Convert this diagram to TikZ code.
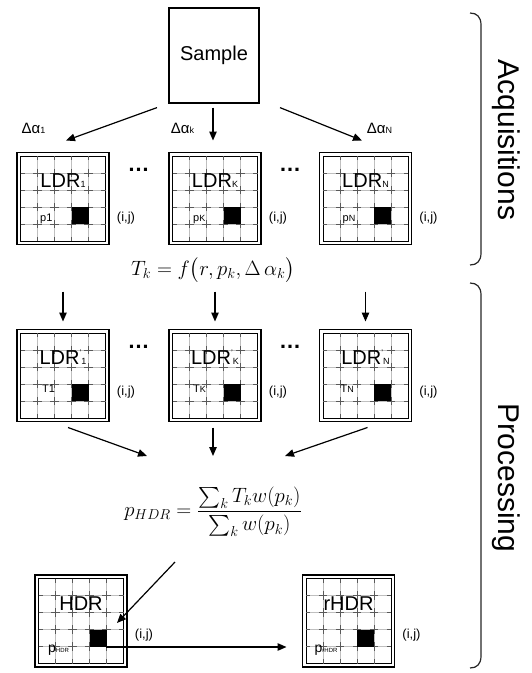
\documentclass[tikz,border=0pt]{standalone}
\usepackage{exscale}
\usepackage{fontspec}
\setmainfont{Liberation Sans}
\usetikzlibrary{arrows.meta}

% small lowered index and prime used in the box titles
\newcommand{\lsub}[1]{{\fontsize{9}{9}\selectfont #1}}
\newcommand{\lprime}{\raisebox{9pt}{\fontsize{8}{8}\selectfont '}}

% pixel box: name, x, y, title, pixel label, label position, (i,j) shift
\newcommand{\pixgrid}[7]{%
  \node[pixbox] (#1) at (#2,#3) {};
  \begin{scope}[shift={(#1.north west)}]
    \draw[line width=0.7pt] (3.5,3.5) rectangle (88.5,88.5);
    \foreach \i in {1,...,4} {
      \draw[gridlight] (3.5+17*\i,3.5) -- (3.5+17*\i,88.5);
      \draw[gridlight] (3.5,3.5+17*\i) -- (88.5,3.5+17*\i);
      \draw[griddark] (3.5+17*\i,3.5) -- (3.5+17*\i,88.5);
      \draw[griddark] (3.5,3.5+17*\i) -- (88.5,3.5+17*\i);
    }
    \fill (54.5,54.5) rectangle (71.5,71.5);
    \node[boxtitle] (#1-t) at (46,35) {#4};
    \node[pixlbl] (#1-p) at #6 {#5};
  \end{scope}
  \node[ijlbl] (#1-ij) at ([xshift=17pt,yshift=#7pt]#1.east) {(i,j)};
}

\begin{document}
\begin{tikzpicture}[x=1pt,y=-1pt,
  pixbox/.style={draw,line width=1.4pt,minimum size=92pt,inner sep=0pt,outer sep=0pt},
  gridlight/.style={black!25,line width=0.7pt},
  griddark/.style={black!65,line width=0.7pt,dash pattern=on 8.5pt off 8.5pt,dash phase=4.25pt},
  boxtitle/.style={font=\fontsize{20}{20}\selectfont,anchor=base,inner sep=0pt},
  pixlbl/.style={font=\fontsize{11}{11}\selectfont,anchor=base west,inner sep=0pt},
  ijlbl/.style={font=\fontsize{13}{13}\selectfont,inner sep=0pt},
  dalbl/.style={font=\fontsize{15}{15}\selectfont,inner sep=0pt},
  dots/.style={font=\fontsize{22}{22}\selectfont\bfseries,inner sep=0pt},
  side/.style={font=\fontsize{30}{30}\selectfont,rotate=-90,inner sep=0pt},
  arr/.style={-{Triangle[length=9pt,width=7.5pt]},line width=1.2pt},
  bracket/.style={line width=1.2pt,black!85}]
\useasboundingbox (0,0) rectangle (531,673);

% acquisitions
\node[draw,line width=1.2pt,minimum width=90pt,minimum height=95pt,
  font=\fontsize{20}{20}\selectfont] (sample) at (214,55.5) {Sample};

\pixgrid{l1}{63}{198.5}{LDR\lsub{1}}{p1}{(23,69)}{-19.5}
\pixgrid{lk}{215}{198.5}{LDR\lsub{K}}{p\lsub{K}}{(24,69)}{-19.5}
\pixgrid{ln}{365.5}{198.5}{LDR\lsub{N}}{p\lsub{N}}{(23,69)}{-19.5}

\node[dalbl] (da1) at (33.5,128) {Δα\lsub{1}};
\node[dalbl] (dak) at (182.5,128) {Δα\lsub{k}};
\node[dalbl] (dan) at (379.5,128) {Δα\lsub{N}};

\draw[arr] ([xshift=-57pt,yshift=-4pt]sample.south) -- ([xshift=3pt,yshift=12pt]l1.north);
\draw[arr] ([xshift=-1pt,yshift=-4pt]sample.south) -- ([xshift=-2pt,yshift=12pt]lk.north);
\draw[arr] ([xshift=66pt,yshift=-4pt]sample.south) -- ([xshift=-3.5pt,yshift=12pt]ln.north);

\node[dots] (d1) at (138.5,170) {…};
\node[dots] (d2) at (290,170) {…};

\node[font=\fontsize{21}{25}\selectfont] (ft) at (213,270) {$T_k = f\bigl(r, p_k, \Delta\,\alpha_k\bigr)$};

% processing
\pixgrid{t1}{63}{375.5}{LDR\lprime\lsub{1}}{T1}{(25,63)}{-16.5}
\pixgrid{tk}{215}{375.5}{LDR\lprime\lsub{K}}{T\lsub{K}}{(24,63)}{-16.5}
\pixgrid{tn}{365.5}{375.5}{LDR\lprime\lsub{N}}{T\lsub{N}}{(21,63)}{-16.5}

\node[dots] (d3) at (138.5,347) {…};
\node[dots] (d4) at (290,347) {…};

\draw[arr] ([yshift=38pt]t1.north) -- ([yshift=8pt]t1.north);
\draw[arr] ([yshift=38pt]tk.north) -- ([yshift=8pt]tk.north);
\draw[arr] ([yshift=38pt]tn.north) -- ([yshift=8pt]tn.north);

\node[font=\fontsize{20}{24}\selectfont] (fp) at (213,512) {$p_{HDR} = \displaystyle\frac{\sum_k T_k w(p_k)}{\sum_k w(p_k)}$};

\coordinate (m1) at (147,456);
\coordinate (m2) at (213,456);
\coordinate (m3) at (285,456);
\draw[arr] ([xshift=5pt,yshift=-6pt]t1.south) -- (m1);
\draw[arr] ([xshift=-2pt,yshift=-6pt]tk.south) -- (m2);
\draw[arr] ([xshift=2pt,yshift=-6pt]tn.south) -- (m3);

\pixgrid{hdr}{81}{621}{HDR}{\fontsize{14}{14}\selectfont p\fontsize{6}{6}\selectfont HDR}{(13,77)}{-14}
\pixgrid{rhdr}{348.5}{621}{rHDR}{\fontsize{14}{14}\selectfont p\fontsize{6}{6}\selectfont rHDR}{(12,77)}{-14}

\coordinate (q) at (175,562);
\draw[arr] (q) -- ([xshift=36pt,yshift=-2pt]hdr.center);
\draw[arr] ([xshift=25pt,yshift=-26pt]hdr.center) -- ([xshift=-16pt,yshift=-26pt]rhdr.west);

% side brackets
\draw[bracket] (470,13) .. controls (477,13) and (481,17) .. (481,25) -- (481,253)
  .. controls (481,261) and (477,265) .. (470,265);
\node[side] (acq) at (506,140) {Acquisitions};
\draw[bracket] (470,283) .. controls (477,283) and (481,287) .. (481,295) -- (481,656)
  .. controls (481,664) and (477,668) .. (470,668);
\node[side] (proc) at (506,478) {Processing};
\end{tikzpicture}
\end{document}
